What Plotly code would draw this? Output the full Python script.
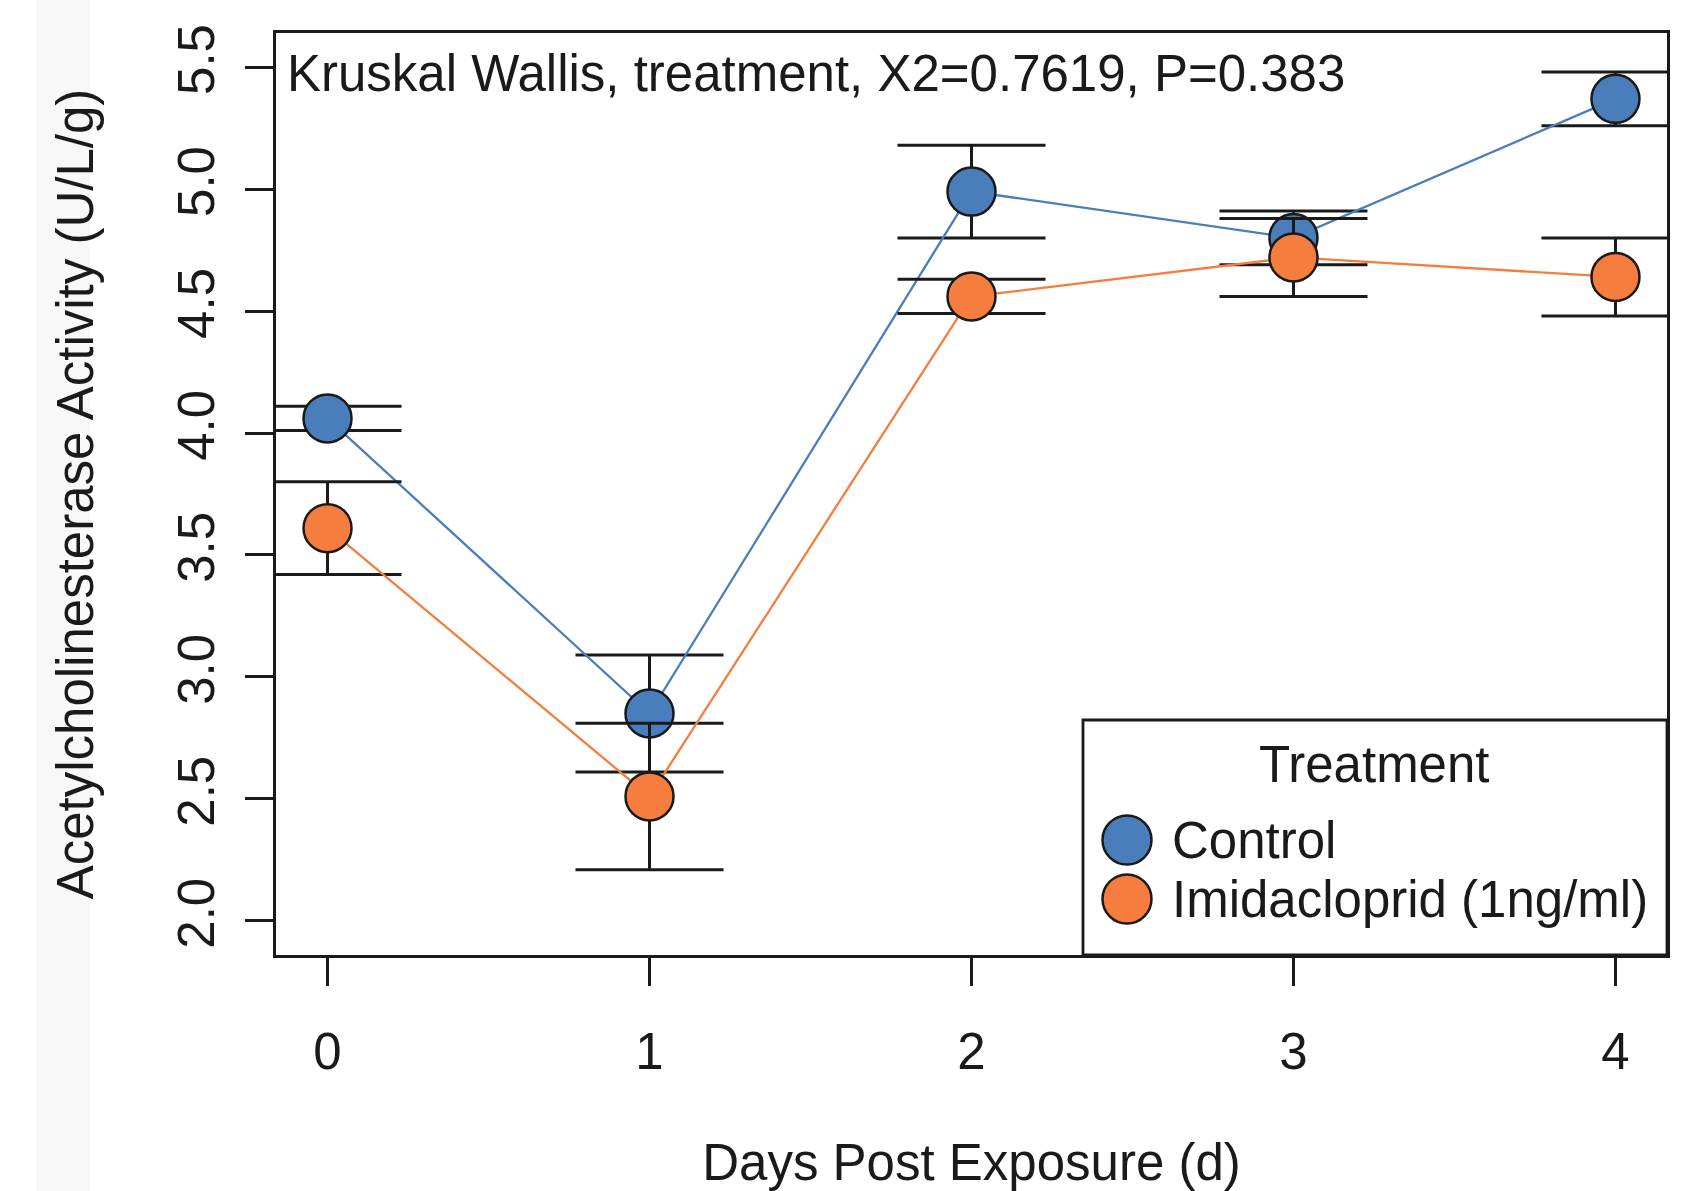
import plotly.graph_objects as go

# ---- data ----
days = [0, 1, 2, 3, 4]
day_labels = ["0", "1", "2", "3", "4"]
control_mean = [4.06, 2.85, 4.99, 4.80, 5.37]
control_err = [0.05, 0.24, 0.19, 0.11, 0.11]
imid_mean = [3.61, 2.51, 4.56, 4.72, 4.64]
imid_err = [0.19, 0.30, 0.07, 0.16, 0.16]
y_ticks = [2.0, 2.5, 3.0, 3.5, 4.0, 4.5, 5.0, 5.5]
y_labels = ["2.0", "2.5", "3.0", "3.5", "4.0", "4.5", "5.0", "5.5"]
series_names = ["Control", "Imidacloprid (1ng/ml)"]
legend_title = "Treatment"
stat_text = "Kruskal Wallis, treatment, X2=0.7619, P=0.383"
x_title = "Days Post Exposure (d)"
y_title = "Acetylcholinesterase Activity (U/L/g)"

# ---- style ----
W, H = 1696, 1191
L, R, T, B = 276, 1667, 33, 955  # plot box in pixels
BLUE = "#4A7EBA"
ORANGE = "#F57E3F"
INK = "#1a1a1a"
FONT = "Liberation Sans, Arial, Helvetica, sans-serif"
FS = 51


def px(xp):
    return (xp - L) / (R - L)


def py(yp):
    return (B - yp) / (B - T)


fig = go.Figure()

for name, mean, err, col in [
    (series_names[0], control_mean, control_err, BLUE),
    (series_names[1], imid_mean, imid_err, ORANGE),
]:
    fig.add_trace(go.Scatter(
        x=days, y=mean, name=name, mode="lines+markers",
        line=dict(color=col, width=2.3),
        marker=dict(size=48, color=col, line=dict(color=INK, width=2.5)),
        error_y=dict(type="data", array=err, visible=True,
                     color=INK, thickness=3, width=74),
        showlegend=False,
    ))

shapes = [
    # faint grey strip at the far left of the page
    dict(type="rect", xref="paper", yref="paper",
         x0=px(36), x1=px(90), y0=py(H), y1=py(0),
         fillcolor="#f8f8f8", line=dict(width=0), layer="below"),
    # legend box
    dict(type="rect", xref="paper", yref="paper",
         x0=px(1083), x1=1, y0=0, y1=py(720),
         fillcolor="white", line=dict(color=INK, width=2.8), layer="above"),
]
annotations = [
    dict(text=stat_text, xref="paper", yref="paper", x=px(285), y=py(74),
         xanchor="left", yanchor="middle", showarrow=False,
         font=dict(size=FS, color=INK, family=FONT)),
    dict(text=legend_title, xref="paper", yref="paper", x=px(1374), y=py(764),
         xanchor="center", yanchor="middle", showarrow=False,
         font=dict(size=FS, color=INK, family=FONT)),
]
for i, (name, col) in enumerate([(series_names[0], BLUE), (series_names[1], ORANGE)]):
    cy = [840, 899][i]
    shapes.append(dict(type="circle", xref="paper", yref="paper",
                       xsizemode="pixel", ysizemode="pixel",
                       xanchor=px(1127), yanchor=py(cy),
                       x0=-24.5, x1=24.5, y0=-24.5, y1=24.5,
                       fillcolor=col, line=dict(color=INK, width=2.5), layer="above"))
    annotations.append(dict(text=name, xref="paper", yref="paper",
                            x=px(1170), y=py(cy), xanchor="left", yanchor="middle",
                            showarrow=False, font=dict(size=FS, color=INK, family=FONT)))

fig.update_layout(
    width=W, height=H,
    margin=dict(l=L, r=W - R, t=T, b=H - B, pad=0, autoexpand=False),
    paper_bgcolor="white", plot_bgcolor="white",
    font=dict(family=FONT, size=FS, color=INK),
    shapes=shapes, annotations=annotations,
    xaxis=dict(
        range=[-0.16, 4.16], tickmode="array", tickvals=days, ticktext=day_labels,
        ticks="outside", ticklen=28, tickwidth=2.6, tickcolor=INK,
        showline=True, linewidth=2.8, linecolor=INK, mirror=True,
        showgrid=False, zeroline=False, ticklabelstandoff=22, automargin=False,
        tickfont=dict(size=FS, family=FONT, color=INK),
        title=dict(text=x_title, standoff=72, font=dict(size=FS, family=FONT, color=INK)),
    ),
    yaxis=dict(
        range=[1.86, 5.64], tickmode="array", tickvals=y_ticks, ticktext=y_labels,
        tickangle=-90,
        ticks="outside", ticklen=28, tickwidth=2.6, tickcolor=INK,
        showline=True, linewidth=2.8, linecolor=INK, mirror=True,
        showgrid=False, zeroline=False, ticklabelstandoff=11, automargin=False,
        tickfont=dict(size=FS, family=FONT, color=INK),
        title=dict(text=y_title, standoff=58, font=dict(size=FS, family=FONT, color=INK)),
    ),
)

fig.write_html("out.html", config={"displayModeBar": False},
               post_script="document.body.style.margin='0';document.body.style.overflow='hidden';")
